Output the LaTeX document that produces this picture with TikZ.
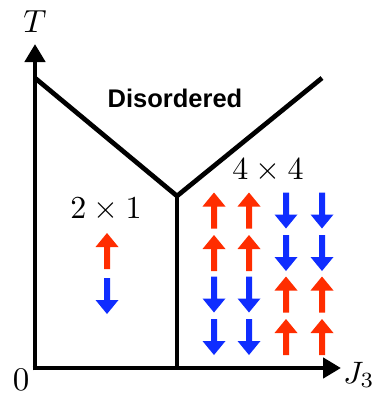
\documentclass[tikz,border=0pt]{standalone}
\usepackage{fontspec}
\newfontfamily\hfont{Liberation Sans}
\usetikzlibrary{arrows.meta}
\definecolor{spinred}{RGB}{255,45,0}
\definecolor{spinblue}{RGB}{15,45,255}
\newcommand\scaledmath[2]{\scalebox{#1}{$#2$}}
\tikzset{
  axis/.style={line width=4.7pt,-{Triangle[width=20pt,length=18pt]}},
  phase/.style={line width=4.7pt},
  spinup/.pic={\fill[spinred] (-3,18) -- (-3,-4) -- (-11.5,-4) -- (0,-18) -- (11.5,-4) -- (3,-4) -- (3,18) -- cycle;},
  spindown/.pic={\fill[spinblue] (-3,-18) -- (-3,4) -- (-11.5,4) -- (0,18) -- (11.5,4) -- (3,4) -- (3,-18) -- cycle;},
  lbl/.style={inner sep=0pt}
}
\begin{document}
\begin{tikzpicture}[x=1pt,y=-1pt]
\useasboundingbox (0,0) rectangle (380,394);
% phase boundaries
\coordinate (tl) at (35,78);
\coordinate (tr) at (322,78);
\coordinate (j) at (177,196);
\coordinate (jb) at (177,368);
\draw[phase,line join=miter] (tl) -- (j) -- (tr);
\draw[phase] (j) -- (jb);
% axes
\coordinate (o) at (35,368);
\coordinate (ty) at (35,44);
\coordinate (jx) at (341,368);
\draw[axis] ([yshift=-2.35pt]o) -- (ty);
\draw[axis] ([xshift=-2.35pt]o) -- (jx);
% labels
\node[lbl] (T) at (35,22) {\scaledmath{3.2}{T}};
\node[lbl] (zero) at (21,380) {\scaledmath{3.3}{0}};
\node[lbl] (J) at (359,375) {\scaledmath{3.1}{J_3}};
\node[inner sep=0pt,font=\hfont\bfseries\fontsize{25.5}{28}\selectfont] (dis) at (175,98) {Disordered};
\node[lbl] (a) at (106,210) {\scaledmath{3.2}{2\times1}};
\node[lbl] (b) at (268,171) {\scaledmath{3.2}{4\times4}};
% 2x1 spins
\pic at (107,251) {spinup};
\pic at (107,296) {spindown};
% 4x4 spins
\foreach \x in {214,249} {
  \pic at (\x,210.5) {spinup};
  \pic at (\x,253) {spinup};
  \pic at (\x,294.5) {spindown};
  \pic at (\x,337) {spindown};
}
\foreach \x in {286,322} {
  \pic at (\x,210.5) {spindown};
  \pic at (\x,253) {spindown};
  \pic at (\x,294.5) {spinup};
  \pic at (\x,337) {spinup};
}
\end{tikzpicture}
\end{document}
